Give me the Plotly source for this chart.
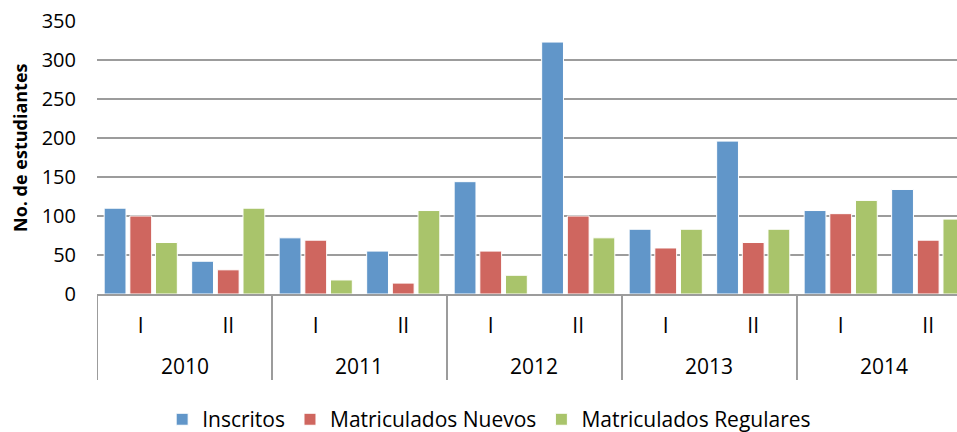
import plotly.graph_objects as go

# Semesters per year and enrollment counts per semester
years = ["2010", "2011", "2012", "2013", "2014"]
semesters = ["I", "II"]
inscritos = [110, 42, 72, 55, 144, 323, 83, 196, 107, 134]
matriculados_nuevos = [100, 31, 69, 14, 55, 100, 59, 66, 103, 69]
matriculados_regulares = [66, 110, 18, 107, 24, 72, 83, 83, 120, 96]

series_names = ["Inscritos", "Matriculados Nuevos", "Matriculados Regulares"]
series_values = [inscritos, matriculados_nuevos, matriculados_regulares]
colors = ["#6196C9", "#CF665F", "#A9C46B"]

period_labels = [s for _ in years for s in semesters]
x_pos = list(range(len(period_labels)))

FONT = "Open Sans"
GRID = "#9c9c9c"

fig = go.Figure()
for name, vals, col in zip(series_names, series_values, colors):
    fig.add_trace(go.Bar(
        x=x_pos, y=vals, name=name,
        marker=dict(color=col, line=dict(color="white", width=1)),
    ))

n_per_year = len(semesters)
# Year labels under each pair of semesters
for i, yr in enumerate(years):
    center = i * n_per_year + (n_per_year - 1) / 2
    fig.add_annotation(
        x=center, y=-0.264, xref="x", yref="paper", text=yr,
        showarrow=False, yanchor="middle",
        font=dict(family=FONT, size=21, color="black"),
    )
# Vertical dividers between years spanning both label rows
for i in range(len(years) + 1):
    xb = i * n_per_year - 0.5
    fig.add_shape(
        type="line", xref="x", yref="paper",
        x0=xb, x1=xb, y0=0, y1=-0.315,
        line=dict(color=GRID, width=2),
    )

# Y axis title
fig.add_annotation(
    x=-0.0895, y=0.535, xref="paper", yref="paper",
    text="<b>No. de estudiantes</b>", textangle=-90,
    showarrow=False, xanchor="center", yanchor="middle",
    font=dict(family=FONT, size=18, color="black"),
)

fig.update_layout(
    width=957, height=432,
    margin=dict(l=97, r=0, t=21, b=138, autoexpand=False),
    paper_bgcolor="white", plot_bgcolor="white",
    barmode="group", bargap=0.12, bargroupgap=0.15,
    font=dict(family=FONT, color="black"),
    showlegend=True,
    legend=dict(
        orientation="h", x=0.456, xanchor="center",
        y=-0.385, yanchor="top",
        font=dict(family=FONT, size=21, color="black"),
        itemwidth=30,
    ),
    xaxis=dict(
        range=[-0.5, 9.329],
        tickmode="array", tickvals=x_pos, ticktext=period_labels,
        tickfont=dict(family=FONT, size=21, color="black"),
        showgrid=False, zeroline=False,
        showline=True, linecolor=GRID, linewidth=2,
        ticks="", ticklabelstandoff=12,
    ),
    yaxis=dict(
        range=[0, 350], tickmode="linear", tick0=0, dtick=50,
        tickfont=dict(family=FONT, size=20, color="black"),
        showgrid=True, gridcolor=GRID, gridwidth=2,
        zeroline=False, showline=False,
        ticks="", ticklabelstandoff=20,
    ),
)

fig.write_html("out.html")
